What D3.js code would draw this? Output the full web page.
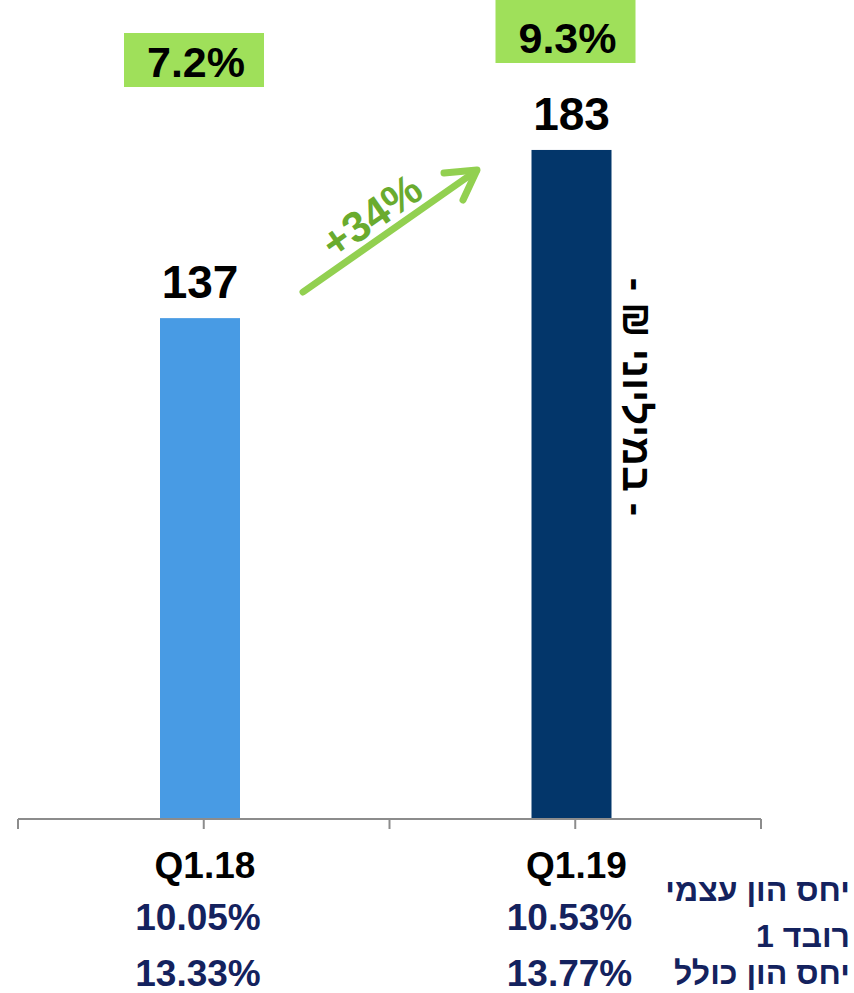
<!DOCTYPE html>
<html>
<head>
<meta charset="utf-8">
<script src="https://cdn.jsdelivr.net/npm/d3@7/dist/d3.min.js"></script>
<style>
  body { margin: 0; background: #fff; }
  svg { display: block; font-family: "Liberation Sans", Arial, sans-serif; }
</style>
</head>
<body>
<div id="chart"></div>
<script>
// data
const CATEGORIES = ["Q1.18", "Q1.19"];
const VALUES = [137, 183];
const ROE = ["7.2%", "9.3%"];
const TIER1 = ["10.05%", "10.53%"];
const TOTAL_RATIO = ["13.33%", "13.77%"];
const BAR_COLORS = ["#489be4", "#03366a"];
const GROWTH = "+34%";
const ROW_LABELS = ["יחס הון עצמי", "רובד 1", "יחס הון כולל"];
const UNIT_LABEL = "- במיליוני ₪ -";

// frame
const FRAME_WIDTH = 854;
const FRAME_HEIGHT = 993;
const BASE_Y = 819;

const FRAME1 = d3.select("#chart")
  .append("svg")
    .attr("width", FRAME_WIDTH)
    .attr("height", FRAME_HEIGHT);

// scales
const X_SCALE = d3.scaleBand()
  .domain(CATEGORIES)
  .range([18, 761])
  .padding(0);

const Y_SCALE = d3.scaleLinear()
  .domain([0, 200])
  .range([BASE_Y, BASE_Y - 200 * 3.656]);

const BAR_W = 80;
const barX = (c) => X_SCALE(c) + 142;
const barMid = (c) => barX(c) + BAR_W / 2;

// bars
FRAME1.selectAll(".bar")
  .data(CATEGORIES)
  .enter()
  .append("rect")
    .attr("class", "bar")
    .attr("x", (d) => barX(d))
    .attr("y", (d, i) => Y_SCALE(VALUES[i]))
    .attr("width", BAR_W)
    .attr("height", (d, i) => BASE_Y - Y_SCALE(VALUES[i]))
    .attr("fill", (d, i) => BAR_COLORS[i]);

// axis: line + ticks at category edges and centres
const tickPos = [];
CATEGORIES.forEach((c) => {
  tickPos.push(X_SCALE(c));
  tickPos.push(X_SCALE(c) + X_SCALE.bandwidth() / 2);
});
tickPos.push(X_SCALE.range()[1]);

FRAME1.append("line")
  .attr("x1", X_SCALE.range()[0]).attr("x2", X_SCALE.range()[1])
  .attr("y1", BASE_Y).attr("y2", BASE_Y)
  .attr("stroke", "#8c8c8c").attr("stroke-width", 2);

FRAME1.selectAll(".tick")
  .data(tickPos)
  .enter()
  .append("line")
    .attr("x1", (d) => d).attr("x2", (d) => d)
    .attr("y1", BASE_Y).attr("y2", BASE_Y + 10)
    .attr("stroke", "#8c8c8c").attr("stroke-width", 2);

// value labels
FRAME1.selectAll(".val")
  .data(CATEGORIES)
  .enter()
  .append("text")
    .attr("x", (d) => barMid(d))
    .attr("y", (d, i) => Y_SCALE(VALUES[i]) - 20)
    .attr("text-anchor", "middle")
    .attr("font-size", 46)
    .attr("font-weight", "bold")
    .attr("fill", "#000")
    .text((d, i) => VALUES[i]);

// green ROE boxes
const BOX_TOP = [33, 0];
const BOX_H = [54, 63];
const BOX_W = 140;
FRAME1.selectAll(".roebox")
  .data(CATEGORIES)
  .enter()
  .append("rect")
    .attr("x", (d) => barMid(d) - BOX_W / 2 - 6)
    .attr("y", (d, i) => BOX_TOP[i])
    .attr("width", BOX_W)
    .attr("height", (d, i) => BOX_H[i])
    .attr("fill", "#9fe05a");

FRAME1.selectAll(".roe")
  .data(CATEGORIES)
  .enter()
  .append("text")
    .attr("x", (d) => barMid(d) - 4)
    .attr("y", (d, i) => BOX_TOP[i] + BOX_H[i] - 10)
    .attr("text-anchor", "middle")
    .attr("font-size", 43)
    .attr("font-weight", "bold")
    .attr("fill", "#000")
    .text((d, i) => ROE[i]);

// growth arrow
const ARROW = FRAME1.append("g");
ARROW.append("line")
  .attr("x1", 303).attr("y1", 292)
  .attr("x2", 476).attr("y2", 171)
  .attr("stroke", "#92d050").attr("stroke-width", 7)
  .attr("stroke-linecap", "round");
ARROW.append("path")
  .attr("d", "M444,173 L477,170 L463,200")
  .attr("fill", "none")
  .attr("stroke", "#92d050").attr("stroke-width", 7)
  .attr("stroke-linecap", "round").attr("stroke-linejoin", "round");
ARROW.append("text")
  .attr("transform", "translate(380,228) rotate(-35)")
  .attr("text-anchor", "middle")
  .attr("font-size", 43)
  .attr("font-weight", "bold")
  .attr("fill", "#6aab2e")
  .text(GROWTH);

// unit label, rotated
FRAME1.append("text")
  .attr("transform", "translate(623,397) rotate(90)")
  .attr("text-anchor", "middle")
  .attr("font-size", 40)
  .attr("font-weight", "bold")
  .attr("fill", "#000")
  .attr("direction", "rtl")
  .text(UNIT_LABEL);

// category labels
FRAME1.selectAll(".cat")
  .data(CATEGORIES)
  .enter()
  .append("text")
    .attr("x", (d) => barMid(d) + 5)
    .attr("y", 878)
    .attr("text-anchor", "middle")
    .attr("font-size", 37)
    .attr("font-weight", "bold")
    .attr("fill", "#000")
    .text((d) => d);

// ratio rows
const NAVY = "#14225e";
[TIER1, TOTAL_RATIO].forEach((row, r) => {
  FRAME1.selectAll(".row" + r)
    .data(CATEGORIES)
    .enter()
    .append("text")
      .attr("x", (d) => barMid(d) - 2)
      .attr("y", r === 0 ? 930 : 986)
      .attr("text-anchor", "middle")
      .attr("font-size", 37)
      .attr("font-weight", "bold")
      .attr("fill", NAVY)
      .text((d, i) => row[i]);
});

// hebrew row labels
const ROW_Y = [901, 947, 984];
FRAME1.selectAll(".rowlab")
  .data(ROW_LABELS)
  .enter()
  .append("text")
    .attr("x", 850)
    .attr("y", (d, i) => ROW_Y[i])
    .attr("text-anchor", "start")
    .attr("direction", "rtl")
    .attr("font-size", 32)
    .attr("font-weight", "bold")
    .attr("fill", NAVY)
    .text((d) => d);
</script>
</body>
</html>
